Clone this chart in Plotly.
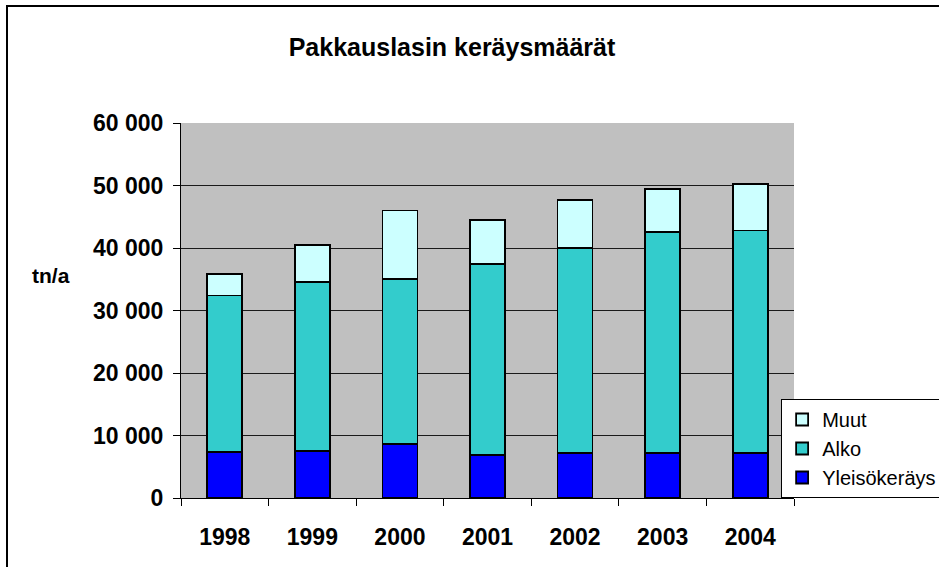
import plotly.graph_objects as go

# Pakkauslasin keräysmäärät (tn/a)
years = ["1998", "1999", "2000", "2001", "2002", "2003", "2004"]
yleiskeräys = [7400, 7500, 8700, 6900, 7250, 7250, 7250]
alko = [25000, 27100, 26300, 30600, 32750, 35350, 35550]
muut = [3400, 5900, 11000, 7000, 7700, 6900, 7500]

FONT = "Liberation Sans, Arial, sans-serif"

fig = go.Figure()

for name, values, color in [
    ("Yleisökeräys", yleiskeräys, "#0000FF"),
    ("Alko", alko, "#33CCCC"),
    ("Muut", muut, "#CCFFFF"),
]:
    fig.add_trace(
        go.Bar(
            x=years,
            y=values,
            name=name,
            marker=dict(color=color, line=dict(color="black", width=1.8)),
        )
    )

fig.update_layout(
    width=939,
    height=567,
    barmode="stack",
    bargap=0.6,
    separators=", ",
    plot_bgcolor="#C0C0C0",
    paper_bgcolor="white",
    font=dict(family=FONT, color="black"),
    margin=dict(l=181, r=145, t=123, b=69, autoexpand=False),
    title=dict(
        text="<b>Pakkauslasin keräysmäärät</b>",
        font=dict(size=25, family=FONT, color="black"),
        x=452 / 939,
        xanchor="center",
        y=1 - 47 / 567,
        yanchor="middle",
    ),
    legend=dict(
        x=0.979,
        xanchor="left",
        y=0,
        yanchor="bottom",
        traceorder="reversed",
        bgcolor="white",
        bordercolor="black",
        borderwidth=1,
        font=dict(size=20, family=FONT, color="black"),
    ),
    showlegend=True,
)

fig.update_yaxes(
    range=[0, 60000],
    dtick=10000,
    tickformat=",d",
    showgrid=True,
    gridcolor="#1a1a1a",
    gridwidth=1,
    zeroline=False,
    showline=True,
    linecolor="black",
    linewidth=1,
    ticks="outside",
    ticklen=7,
    tickcolor="black",
    ticklabelstandoff=5,
    tickfont=dict(size=23, family=FONT, color="black", weight="bold"),
)

fig.update_xaxes(
    showgrid=False,
    showline=True,
    linecolor="black",
    linewidth=1,
    ticks="outside",
    ticklen=7,
    tickcolor="black",
    tickson="boundaries",
    ticklabelstandoff=18,
    tickfont=dict(size=23, family=FONT, color="black", weight="bold"),
)

# akselin yksikkö
fig.add_annotation(
    text="<b>tn/a</b>",
    xref="paper", yref="paper",
    x=(51 - 181) / 613, y=(498 - 275) / 375,
    xanchor="center", yanchor="middle",
    showarrow=False,
    font=dict(size=21, family=FONT, color="black"),
)

# kaavion kehys
fig.add_shape(
    type="rect",
    xref="paper", yref="paper",
    x0=-174 / 613, x1=1.3,
    y0=-0.3, y1=(498 - 6) / 375,
    line=dict(color="black", width=2),
    fillcolor="rgba(0,0,0,0)",
    layer="below",
)

fig.write_html(
    "out.html",
    config={"displayModeBar": False},
    post_script="document.body.style.margin='0';document.body.style.overflow='hidden';",
)
